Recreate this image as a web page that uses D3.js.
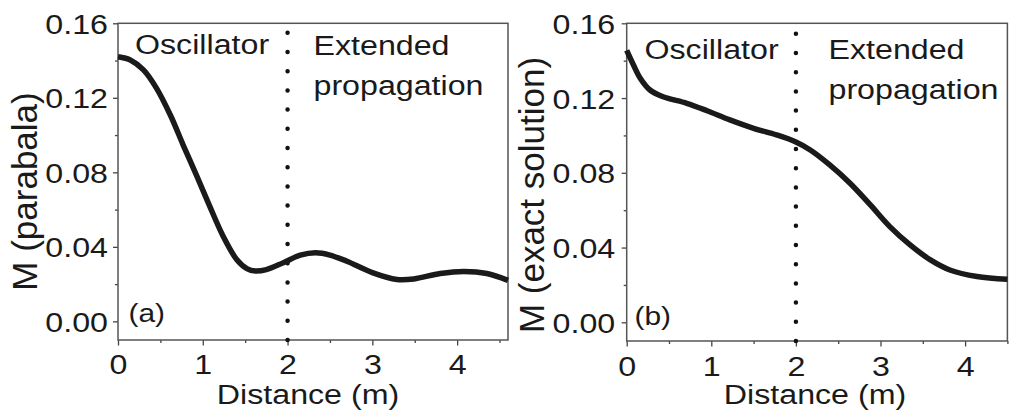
<!DOCTYPE html>
<html lang="en">
  <head>
    <meta charset="UTF-8" />
    <title>M versus distance</title>
    <script src="https://d3js.org/d3.v7.min.js"></script>
    <style>
      body {
        margin: 0;
        background: #fff;
      }
      svg text {
        font-family: "Liberation Sans", Arial, sans-serif;
        fill: #1a1a1a;
      }
      .tick line {
        stroke: #444;
        stroke-width: 1.3;
      }
    </style>
  </head>
  <body>
    <svg id="chart" width="1009" height="420"></svg>
    <script>
      // panel (a): parabola approximation
      const distA = [0, 0.15, 0.3, 0.45, 0.62, 0.77, 0.93, 1.08, 1.24, 1.4, 1.52, 1.62, 1.75, 1.95, 2.15, 2.33, 2.5, 2.7, 3.0, 3.29, 3.49, 3.8, 4.08, 4.35, 4.6];
      const mA = [0.142, 0.1402, 0.135, 0.1255, 0.1105, 0.0945, 0.078, 0.062, 0.0457, 0.0332, 0.0283, 0.027, 0.0278, 0.0315, 0.0355, 0.0368, 0.0356, 0.0323, 0.0262, 0.0225, 0.0228, 0.0257, 0.0268, 0.0257, 0.022];

      // panel (b): exact solution
      const distB = [0, 0.08, 0.16, 0.275, 0.43, 0.71, 0.95, 1.22, 1.5, 1.77, 2.0, 2.17, 2.4, 2.64, 2.88, 3.11, 3.35, 3.59, 3.82, 4.14, 4.5];
      const mB = [0.1455, 0.1377, 0.1306, 0.1243, 0.1207, 0.1172, 0.1132, 0.1083, 0.1038, 0.1003, 0.0965, 0.0922, 0.0842, 0.0744, 0.0628, 0.0512, 0.0414, 0.0334, 0.028, 0.0245, 0.023];

      const xTicks = [0, 1, 2, 3, 4];
      const xMinor = [0.5, 1.5, 2.5, 3.5, 4.5];
      const yTicks = [0, 0.04, 0.08, 0.12, 0.16];
      const yMinor = [0.02, 0.06, 0.1, 0.14];
      const boundary = 2;

      const SX = 1.15; // labels in the figure are a bit wide
      const svg = d3.select("#chart");

      const panels = [
        {
          dist: distA, m: mA, xMax: 4.6, tag: "(a)", yTitle: "M (parabala)",
          left: 118, right: 508, top: 23.3, bottom: 340,
          oscX: 135, oscY: 53.5, extX: 313.5, extY: 55, propY: 95,
          tagX: 128.5, tagY: 321.5, xTitleX: 308, yTitleX: 37, yTitleY: 191.5,
        },
        {
          dist: distB, m: mB, xMax: 4.5, tag: "(b)", yTitle: "M (exact solution)",
          left: 626.7, right: 1007.4, top: 23.3, bottom: 341,
          oscX: 644.5, oscY: 58.5, extX: 828.5, extY: 59, propY: 98.5,
          tagX: 634.5, tagY: 325, xTitleX: 815, yTitleX: 544, yTitleY: 195,
        },
      ];

      function label(x, y, str, size, anchor) {
        return svg
          .append("text")
          .attr("transform", `translate(${x},${y}) scale(${SX},1)`)
          .attr("text-anchor", anchor || "start")
          .style("font-size", size + "px")
          .text(str);
      }

      panels.forEach((p) => {
        const x = d3.scaleLinear().domain([0, p.xMax]).range([p.left, p.right]);
        const y = d3.scaleLinear().domain([-0.01, 0.16]).range([p.bottom, p.top]);

        // minor ticks
        svg.append("g")
          .attr("transform", `translate(0,${p.bottom})`)
          .call(d3.axisBottom(x).tickValues(xMinor).tickSize(3).tickFormat(""))
          .call((g) => g.select(".domain").remove());
        svg.append("g")
          .attr("transform", `translate(${p.left},0)`)
          .call(d3.axisLeft(y).tickValues(yMinor).tickSize(3).tickFormat(""))
          .call((g) => g.select(".domain").remove());

        // major ticks
        const gx = svg.append("g")
          .attr("transform", `translate(0,${p.bottom})`)
          .call(d3.axisBottom(x).tickValues(xTicks).tickSize(5.5).tickFormat(d3.format("d")));
        gx.select(".domain").remove();
        gx.selectAll("text")
          .attr("y", null)
          .attr("dy", null)
          .attr("transform", `translate(0,${p.bottom === 340 ? 34 : 35}) scale(${SX},1)`)
          .style("font-size", "28px")
          .attr("fill", "#1a1a1a");

        const gy = svg.append("g")
          .attr("transform", `translate(${p.left},0)`)
          .call(d3.axisLeft(y).tickValues(yTicks).tickSize(5).tickFormat(d3.format(".2f")));
        gy.select(".domain").remove();
        gy.selectAll("text")
          .attr("x", null)
          .attr("dy", "0.36em")
          .attr("transform", `translate(${p.left > 600 ? -11.5 : -10},0) scale(${SX},1)`)
          .style("font-size", "28px")
          .attr("fill", "#1a1a1a");

        // frame
        svg.append("rect")
          .attr("x", p.left)
          .attr("y", p.top)
          .attr("width", p.right - p.left)
          .attr("height", p.bottom - p.top)
          .attr("fill", "none")
          .attr("stroke", "#555")
          .attr("stroke-width", 1.5);

        // dotted boundary
        svg.append("line")
          .attr("x1", x(boundary))
          .attr("x2", x(boundary))
          .attr("y1", p.bottom)
          .attr("y2", p.top)
          .attr("stroke", "#111")
          .attr("stroke-width", 4.5)
          .attr("stroke-linecap", "round")
          .attr("stroke-dasharray", "0 19.2");

        // curve
        const pts = p.dist.map((d, i) => [d, p.m[i]]);
        svg.append("path")
          .datum(pts)
          .attr("fill", "none")
          .attr("stroke", "#1a1a1a")
          .attr("stroke-width", 5.5)
          .attr("stroke-linejoin", "round")
          .attr("d", d3.line().x((d) => x(d[0])).y((d) => y(d[1])).curve(d3.curveCatmullRom.alpha(0.5)));

        // annotations
        label(p.oscX, p.oscY, "Oscillator", 28);
        label(p.extX, p.extY, "Extended", 28);
        label(p.extX, p.propY, "propagation", 28);
        label(p.tagX, p.tagY, p.tag, 26);
        label(p.xTitleX, 404, "Distance (m)", 28, "middle");

        svg.append("text")
          .attr("transform", `translate(${p.yTitleX},${p.yTitleY}) rotate(-90)`)
          .attr("text-anchor", "middle")
          .style("font-size", "35px")
          .text(p.yTitle);
      });
    </script>
  </body>
</html>
